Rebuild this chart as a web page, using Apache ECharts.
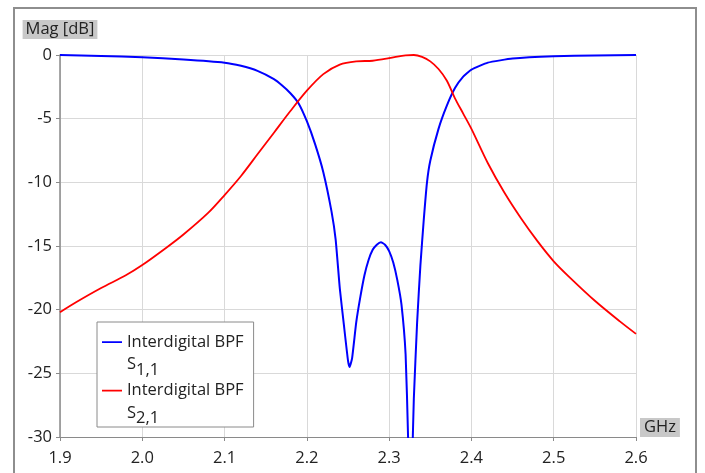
<!DOCTYPE html>
<html>
<head>
<meta charset="utf-8">
<script src="https://cdn.jsdelivr.net/npm/echarts@6/dist/echarts.min.js"></script>
<style>html,body{margin:0;padding:0;background:#fff}#c{width:705px;height:473px}</style>
</head>
<body>
<div id="c"></div>
<script>
var seriesNames = ['Interdigital BPF S1,1', 'Interdigital BPF S2,1'];
var xTicks = [1.9, 2.0, 2.1, 2.2, 2.3, 2.4, 2.5, 2.6];
var yTicks = [0, -5, -10, -15, -20, -25, -30];

var freqS11 = [1.90, 1.95, 2.00, 2.05, 2.10, 2.12, 2.14, 2.16, 2.17, 2.18, 2.19, 2.20, 2.21, 2.22, 2.23, 2.235, 2.24, 2.245, 2.25, 2.252, 2.255, 2.26, 2.265, 2.27, 2.275, 2.28, 2.285, 2.29, 2.295, 2.30, 2.305, 2.31, 2.315, 2.32, 2.323, 2.325, 2.328, 2.33, 2.334, 2.338, 2.342, 2.346, 2.35, 2.36, 2.37, 2.38, 2.39, 2.40, 2.42, 2.45, 2.50, 2.55, 2.60];
var s11 = [0, -0.08, -0.18, -0.35, -0.6, -0.85, -1.25, -1.9, -2.4, -3.0, -3.8, -5.2, -7.0, -9.2, -12.3, -14.5, -18.3, -21.2, -24.0, -24.5, -23.8, -21.0, -19.0, -17.3, -16.1, -15.3, -14.9, -14.7, -14.9, -15.4, -16.3, -17.7, -19.6, -23.5, -30, -40, -32, -27, -21, -16.5, -13.0, -10.0, -8.3, -5.8, -4.0, -2.6, -1.7, -1.15, -0.6, -0.28, -0.1, -0.04, 0];

var freqS21 = [1.90, 1.92, 1.95, 1.98, 2.00, 2.03, 2.05, 2.08, 2.10, 2.12, 2.14, 2.16, 2.18, 2.20, 2.22, 2.24, 2.26, 2.28, 2.30, 2.31, 2.32, 2.33, 2.34, 2.35, 2.36, 2.37, 2.38, 2.39, 2.40, 2.42, 2.44, 2.46, 2.48, 2.50, 2.52, 2.55, 2.58, 2.60];
var s21 = [-20.2, -19.4, -18.3, -17.3, -16.5, -15.1, -14.1, -12.4, -11.0, -9.5, -7.8, -6.1, -4.4, -2.8, -1.5, -0.75, -0.5, -0.45, -0.25, -0.12, -0.03, 0, -0.15, -0.5, -1.1, -2.0, -3.4, -4.6, -5.8, -8.5, -10.8, -12.8, -14.6, -16.2, -17.5, -19.3, -20.9, -21.9];

function pairs(xs, ys) { return xs.map(function (x, i) { return [x, ys[i]]; }); }

var FONT = 'Open Sans';
var FS = 16.5;
var chart = echarts.init(document.getElementById('c'), null, { renderer: 'canvas' });
var iconPath = 'path://M0,0h0.01v0.01h-0.01z M0,11.2h20v1.8h-20z M0,48h0.01v0.01h-0.01z';
chart.setOption({
  animation: false,
  backgroundColor: '#ffffff',
  textStyle: { fontFamily: FONT },
  graphic: [{
    type: 'rect', shape: { x: 14, y: 8, width: 682, height: 480 },
    style: { fill: 'none', stroke: '#8e8e8e', lineWidth: 2 }, silent: true, z: 0
  }],
  grid: { left: 60, right: 69, top: 55, bottom: 36, containLabel: false },
  legend: {
    orient: 'vertical', left: 97, top: 322,
    padding: [8, 10, 0, 5], itemGap: 0, itemWidth: 20, itemHeight: 48,
    borderColor: '#8a8a8a', borderWidth: 1, backgroundColor: '#ffffff',
    icon: iconPath,
    formatter: function (name) {
      var sub = name.indexOf('S1,1') >= 0 ? '1,1' : '2,1';
      return 'Interdigital BPF\n{s|S}{sub|' + sub + '}';
    },
    textStyle: {
      fontFamily: FONT, fontSize: FS, color: '#222', lineHeight: 24,
      rich: {
        s: { fontFamily: FONT, fontSize: FS, color: '#222', lineHeight: 24, padding: [0, 0, 3, 0] },
        sub: { fontFamily: FONT, fontSize: FS, color: '#222', lineHeight: 24, padding: [8, 0, 0, 0] }
      }
    },
    data: seriesNames
  },
  xAxis: {
    type: 'value', min: xTicks[0], max: xTicks[xTicks.length - 1], interval: 0.1,
    name: 'GHz', nameLocation: 'end', nameGap: 4,
    nameTextStyle: { fontFamily: FONT, fontSize: FS, color: '#222', backgroundColor: '#c8c8c8', padding: [1, 4, 1, 4], verticalAlign: 'bottom', align: 'left' },
    axisLine: { onZero: false, lineStyle: { color: '#8a8a8a', width: 1 } },
    axisTick: { show: true, length: 4, lineStyle: { color: '#8a8a8a' } },
    axisLabel: { fontFamily: FONT, fontSize: FS, color: '#222', margin: 13, formatter: function (v) { return v.toFixed(1); } },
    splitLine: { show: true, lineStyle: { color: '#d9d9d9', width: 1 } }
  },
  yAxis: {
    type: 'value', min: yTicks[yTicks.length - 1], max: yTicks[0], interval: 5,
    name: 'Mag [dB]', nameLocation: 'end', nameGap: 16,
    nameTextStyle: { fontFamily: FONT, fontSize: FS, color: '#222', backgroundColor: '#c8c8c8', padding: [1, 3, 1, 3], align: 'center' },
    axisLine: { show: true, lineStyle: { color: '#8a8a8a', width: 1.5 } },
    axisTick: { show: true, length: 4, lineStyle: { color: '#8a8a8a' } },
    axisLabel: { fontFamily: FONT, fontSize: FS, color: '#222', margin: 8 },
    splitLine: { show: true, lineStyle: { color: '#d9d9d9', width: 1 } }
  },
  series: [
    { name: seriesNames[0], type: 'line', data: pairs(freqS11, s11), showSymbol: false, symbol: 'none', clip: true,
      smooth: 0.15,
      lineStyle: { color: '#0000ff', width: 2 }, itemStyle: { color: '#0000ff' } },
    { name: seriesNames[1], type: 'line', data: pairs(freqS21, s21), showSymbol: false, symbol: 'none', clip: true,
      smooth: 0.3,
      lineStyle: { color: '#ff0000', width: 1.8 }, itemStyle: { color: '#ff0000' } }
  ]
});
</script>
</body>
</html>
